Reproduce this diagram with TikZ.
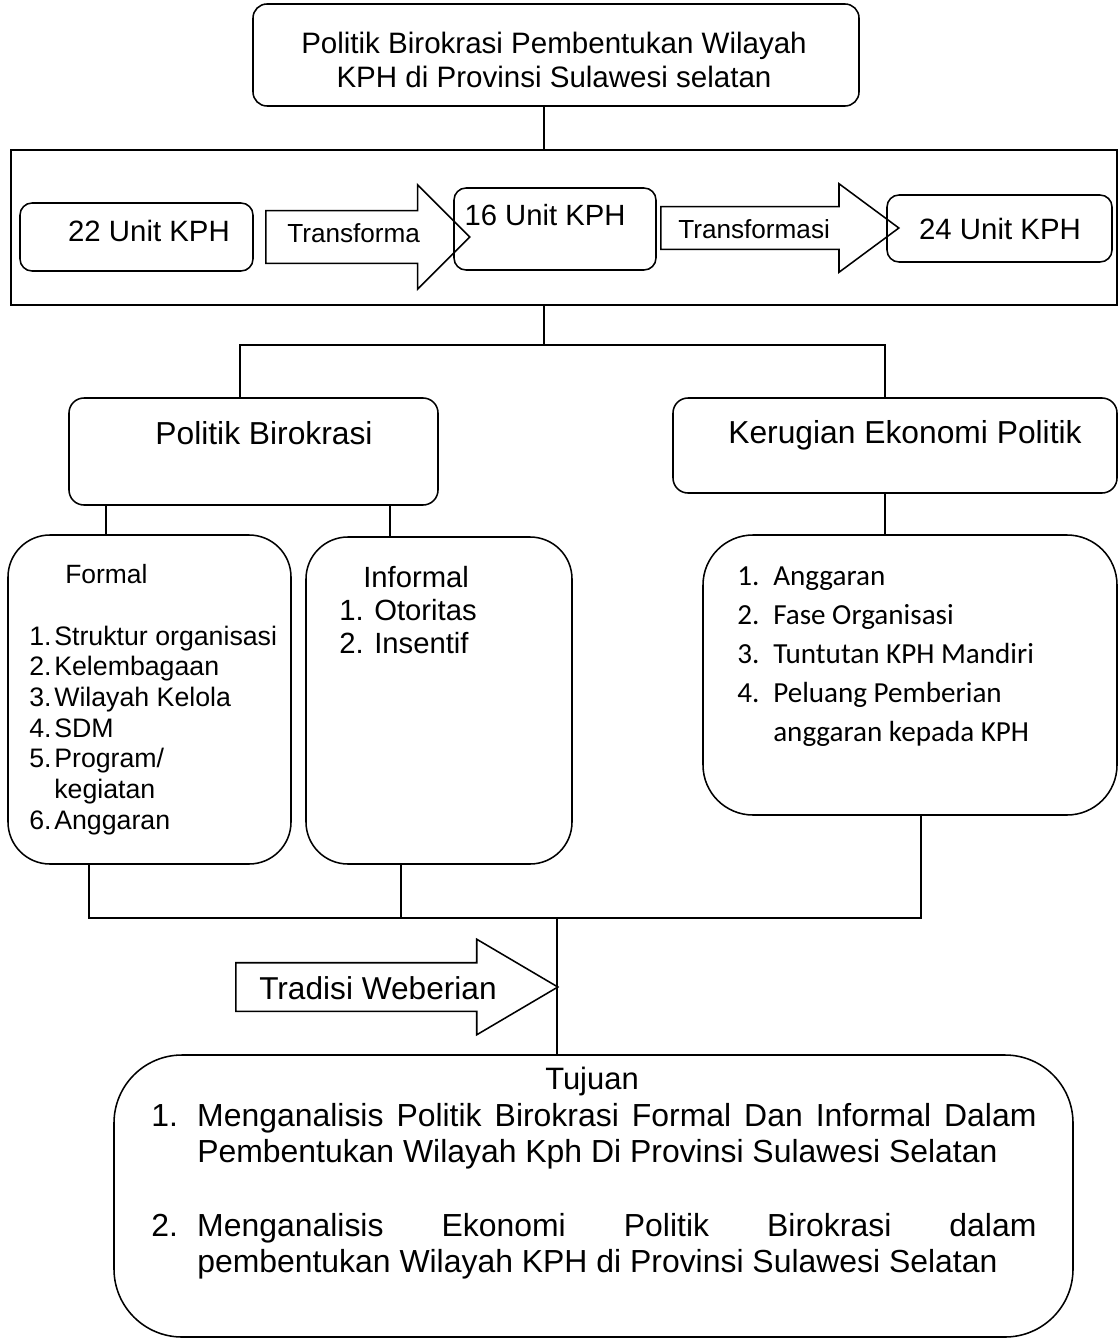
\documentclass[tikz,border=0pt]{standalone}
\usepackage{fontspec}
\setmainfont{Liberation Sans}
\newfontfamily\calibrifont{Carlito}
\usepackage{tikz}
\usetikzlibrary{positioning,fit,shapes,calc}
\tikzset{
  frame/.style={draw, line width=1.1pt, inner sep=0pt, rounded corners=#1},
  frame/.default=0.3cm,
  sqframe/.style={draw, line width=1.1pt, inner sep=0pt},
  blockarrow/.style={shape=single arrow, draw, line width=1.1pt,
                     inner xsep=0pt, anchor=tail, single arrow head indent=0pt},
  txt/.style ={inner sep=0pt, anchor=base west},
  ctxt/.style={inner sep=0pt, anchor=base},
  link/.style={line width=1pt},
}
\newcommand{\fsz}[2]{\fontsize{#1pt}{#2pt}\selectfont}
\newcommand{\numitem}[2]{\makebox[#1][l]{#2}}

\begin{document}
\begin{tikzpicture}[x=0.025cm, y=-0.025cm]
  \useasboundingbox (0,0) rectangle (1119,1339);
  % judul
  \node[frame=0.35cm, fit={(253,4) (859,106)}] (judul) {};
  \node[ctxt, align=center, font=\fsz{21}{24.2}] (judulTxt) at (554,87.5)
       {Politik Birokrasi Pembentukan Wilayah\\KPH di Provinsi Sulawesi selatan};
  % transformasi KPH
  \node[sqframe, fit={(11,150) (1117,305)}] (kph) {};
  \node[frame, fit={(20,203) (253,271)}] (unitA) {};
  \node[ctxt, font=\fsz{20.9}{24}] (unitATxt) at (149,241.5) {22 Unit KPH};
  \node[blockarrow, minimum height=5.1cm, inner ysep=0.6375cm,
        single arrow head extend=0.65cm, single arrow tip angle=90] (trA) at (265,237) {};
  \node[txt, font=\fsz{18.6}{22}] (trATxt) at (287,242.4) {Transforma};
  \node[frame, fit={(454,188) (656,270)}] (unitB) {};
  \node[ctxt, font=\fsz{20.8}{24}] (unitBTxt) at (545,225.5) {16 Unit KPH};
  \node[blockarrow, minimum height=5.95cm, inner ysep=0.5125cm,
        single arrow head extend=0.575cm, single arrow tip angle=73] (trB) at (660,228) {};
  \node[txt, font=\fsz{18.6}{22}] (trBTxt) at (678,238.4) {Transformasi};
  \node[frame, fit={(887,195) (1112,262)}] (unitC) {};
  \node[ctxt, font=\fsz{20.9}{24}] (unitCTxt) at (1000,239.5) {24 Unit KPH};
  \coordinate (jA) at (544,345);
  \draw[link] (judul.south -| jA) -- (kph.north -| jA);
  \draw[link] (kph.south -| jA) -- (jA);
  % cabang
  \node[frame=0.375cm, fit={(69,398) (438,505)}] (pb) {};
  \node[ctxt, font=\fsz{22.6}{26}] (pbTxt) at (264,444) {Politik Birokrasi};
  \node[frame=0.375cm, fit={(673,398) (1117,493)}] (keg) {};
  \node[ctxt, font=\fsz{22.6}{26}] (kegTxt) at (905,443) {Kerugian Ekonomi Politik};
  \draw[link] ([xshift=-0.34cm]pb.north) |- (jA) -| ([xshift=-0.25cm]keg.north);
  % formal / informal / kerugian
  \node[frame=1.05cm, fit={(8,535) (291,864)}] (formal) {};
  \node[txt, font=\fsz{18.8}{22}] (formalHead) at (65,583) {Formal};
  \node[txt, align=left, font=\fsz{19}{21.8}] (formalList) at (29,829)
       {\numitem{17.8pt}{1.}Struktur organisasi\\\numitem{17.8pt}{2.}Kelembagaan\\%
        \numitem{17.8pt}{3.}Wilayah Kelola\\\numitem{17.8pt}{4.}SDM\\%
        \numitem{17.8pt}{5.}Program/\\\numitem{17.8pt}{}kegiatan\\%
        \numitem{17.8pt}{6.}Anggaran};
  \node[frame=1.05cm, fit={(306,537) (572,864)}] (informal) {};
  \node[txt, font=\fsz{20.8}{23.5}] (infHead) at (363,587.5) {Informal};
  \node[txt, align=left, font=\fsz{20.8}{23.5}] (infList) at (339,653.5)
       {\numitem{24.9pt}{1.}Otoritas\\\numitem{24.9pt}{2.}Insentif};
  \node[frame=1.25cm, fit={(703,535) (1117,815)}] (klist) {};
  \node[txt, align=left, font=\calibrifont\fsz{20.7}{27.7}] (klistTxt) at (737,741)
       {\numitem{25.6pt}{1.}Anggaran\\\numitem{25.6pt}{2.}Fase Organisasi\\%
        \numitem{25.6pt}{3.}Tuntutan KPH Mandiri\\\numitem{25.6pt}{4.}Peluang Pemberian\\%
        \numitem{25.6pt}{}anggaran kepada KPH};
  \draw[link] ([xshift=-1.09cm]formal.north) -- ([xshift=-1.09cm]formal.north |- pb.south);
  \draw[link] ([xshift=-1.225cm]informal.north) -- ([xshift=-1.225cm]informal.north |- pb.south);
  \draw[link] ([xshift=-0.25cm]keg.south) -- ([xshift=-0.25cm]keg.south |- klist.north);
  % gabungan ke tujuan
  \coordinate (jB) at (557,918);
  \draw[link] ([xshift=-1.51cm]formal.south) |- (jB) -| ([xshift=0.275cm]klist.south);
  \draw[link] ([xshift=-0.95cm]informal.south) -- ([xshift=-0.95cm]informal.south |- jB);
  \node[frame=1.7cm, fit={(114,1055) (1073,1337)}] (tujuan) {};
  \draw[link] (jB) -- (jB |- tujuan.north);
  \node[blockarrow, minimum height=8.05cm, inner ysep=0.5875cm,
        single arrow head extend=0.5875cm, single arrow tip angle=61] (weber) at (235,987) {};
  \node[txt, font=\fsz{22.5}{26}] (weberTxt) at (259,999) {Tradisi Weberian};
  % tujuan
  \node[ctxt, font=\fsz{22}{26}] (tujuanHead) at (592,1089) {Tujuan};
  \node[txt, text width=22.125cm, align=justify, font=\fsz{22.7}{25.6}] (tujuanList) at (151,1126)
       {\hangindent=32.7pt\hangafter=1\noindent\makebox[32.7pt][l]{1.}Menganalisis Politik
        Birokrasi Formal Dan Informal Dalam\linebreak Pembentukan Wilayah Kph Di Provinsi
        Sulawesi Selatan\par\vspace{27.7pt}%
        \hangindent=32.7pt\hangafter=1\noindent\makebox[32.7pt][l]{2.}Menganalisis Ekonomi
        Politik Birokrasi dalam\linebreak pembentukan Wilayah KPH di Provinsi Sulawesi
        Selatan\par};
\end{tikzpicture}
\end{document}
